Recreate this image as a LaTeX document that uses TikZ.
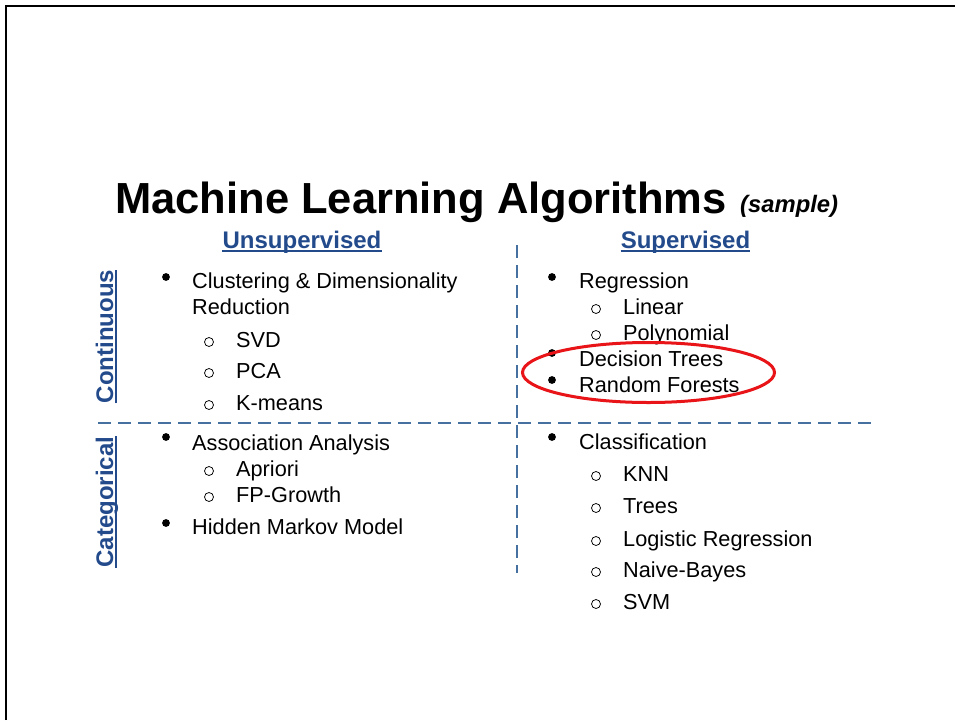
\documentclass[tikz,border=0pt]{standalone}
\usepackage{fontspec}
\setmainfont{Liberation Sans}
\definecolor{hdrblue}{RGB}{35,75,140}
\definecolor{dashblue}{RGB}{70,112,160}
\definecolor{ringred}{RGB}{232,20,24}
\begin{document}
\begin{tikzpicture}[x=1pt,y=-1pt,
  txt/.style={anchor=base west,inner sep=0pt,font=\fontsize{21.7}{26}\selectfont},
  hdr/.style={anchor=base,inner sep=0pt,text=hdrblue,font=\fontsize{24}{28}\selectfont\bfseries},
  vhdr/.style={hdr,rotate=90},
  uline/.style={draw=hdrblue,line width=1.4pt},
  divider/.style={draw=dashblue,line width=2pt,dash pattern=on 13pt off 7pt},
  dot/.style={circle,fill=black,inner sep=0pt,minimum size=7.8pt},
  ring/.style={circle,draw=black,line width=0.75pt,inner sep=0pt,minimum size=9pt},
]
\useasboundingbox (0,0) rectangle (955,720);
\fill[white] (0,0) rectangle (955,720);
% slide frame
\coordinate (fb) at (5.5,720);
\coordinate (fc) at (5.5,5.5);
\coordinate (fr) at (955,5.5);
\draw[line width=2pt] (fb) -- (fc) -- (fr);

% title
\node[anchor=base west,inner sep=0pt,font=\fontsize{43.5}{50}\selectfont\bfseries] (title) at (115,213) {Machine Learning Algorithms};
\node[anchor=base west,inner sep=0pt,font=\fontsize{23.8}{28}\selectfont\bfseries\itshape] (sample) at (740,212) {(sample)};

% column headers
\node[hdr] (unsup) at (302,248) {Unsupervised};
\draw[uline] ([yshift=-3pt]unsup.base west) -- ([yshift=-3pt]unsup.base east);
\node[hdr] (sup) at (685.5,248) {Supervised};
\draw[uline] ([yshift=-3pt]sup.base west) -- ([yshift=-3pt]sup.base east);

% row headers
\node[vhdr] (cont) at (113,336.5) {Continuous};
\draw[uline] ([xshift=3pt]cont.base west) -- ([xshift=3pt]cont.base east);
\node[vhdr] (cat) at (113,502) {Categorical};
\draw[uline] ([xshift=3pt]cat.base west) -- ([xshift=3pt]cat.base east);

% dividers
\coordinate (hL) at (98,423);
\coordinate (hR) at (873,423);
\coordinate (vT) at (517,245);
\coordinate (vB) at (517,573);
\draw[divider] (hL) -- (hR);
\draw[divider] (vT) -- (vB);

% top-left quadrant
\node[dot] (d1) at (166,277) {};
\node[txt] (t1) at (192,288) {Clustering \& Dimensionality};
\node[txt] (t1b) at (192,314) {Reduction};
\node[ring] (r1) at (209,342) {};
\node[txt] (t2) at (236,347) {SVD};
\node[ring] (r2) at (209,373) {};
\node[txt] (t3) at (236,378) {PCA};
\node[ring] (r3) at (209,405) {};
\node[txt] (t4) at (236,410) {K-means};

% bottom-left quadrant
\node[dot] (d2) at (166,437) {};
\node[txt] (t5) at (192,450) {Association Analysis};
\node[ring] (r4) at (209,471) {};
\node[txt] (t6) at (236,476) {Apriori};
\node[ring] (r5) at (209,497) {};
\node[txt] (t7) at (236,502) {FP-Growth};
\node[dot] (d3) at (166,523) {};
\node[txt] (t8) at (192,534) {Hidden Markov Model};

% top-right quadrant
\node[dot] (d4) at (552,277) {};
\node[txt] (t9) at (579,288) {Regression};
\node[ring] (r6) at (596,309) {};
\node[txt] (t10) at (623,314) {Linear};
\node[ring] (r7) at (596,335) {};
\node[txt] (t11) at (623,340) {Polynomial};
\node[dot] (d5) at (552,353) {};
\node[txt] (t12) at (579,366) {Decision Trees};
\node[dot] (d6) at (552,380) {};
\node[txt] (t13) at (579,392) {Random Forests};

% bottom-right quadrant
\node[dot] (d7) at (552,437) {};
\node[txt] (t14) at (579,449) {Classification};
\node[ring] (r8) at (596,476) {};
\node[txt] (t15) at (623,481) {KNN};
\node[ring] (r9) at (596,508) {};
\node[txt] (t16) at (623,513) {Trees};
\node[ring] (r10) at (596,541) {};
\node[txt] (t17) at (623,546) {Logistic Regression};
\node[ring] (r11) at (596,572) {};
\node[txt] (t18) at (623,577) {Naive-Bayes};
\node[ring] (r12) at (596,604) {};
\node[txt] (t19) at (623,609) {SVM};

% highlight
\draw[draw=ringred,line width=3pt] (648.5,372.5) ellipse [x radius=126,y radius=30];
\end{tikzpicture}
\end{document}
